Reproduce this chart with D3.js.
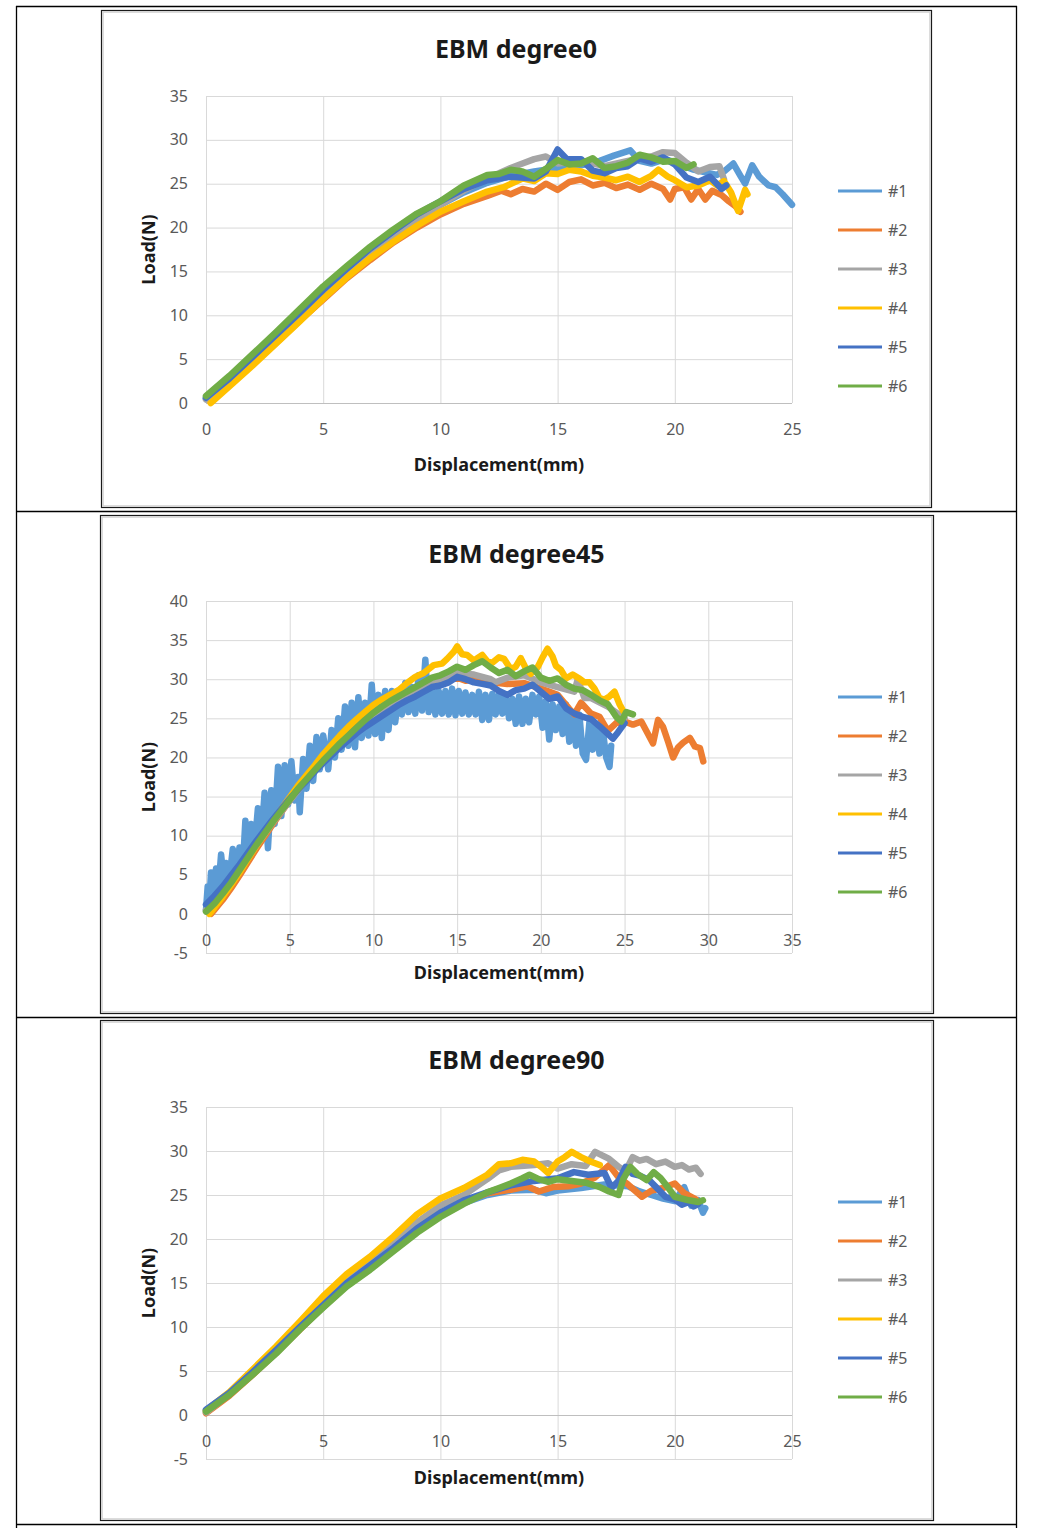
<!DOCTYPE html>
<html><head><meta charset="utf-8">
<script src="https://cdn.jsdelivr.net/npm/d3@7"></script>
<style>
body{margin:0;background:#fff}
svg{display:block}
text{font-family:"Noto Sans","Open Sans",sans-serif}
</style>
</head><body>
<svg id="c" width="1052" height="1528"></svg>
<script>
// ---------- data ----------
const seriesNames = ["#1","#2","#3","#4","#5","#6"];
const seriesColors = ["#5B9BD5","#ED7D31","#A5A5A5","#FFC000","#4472C4","#70AD47"];
const chartTitles = ["EBM degree0","EBM degree45","EBM degree90"];
const xTitle = "Displacement(mm)";
const yTitle = "Load(N)";

const deg0XTicks = [0,5,10,15,20,25];
const deg0YTicks = [0,5,10,15,20,25,30,35];
const deg45XTicks = [0,5,10,15,20,25,30,35];
const deg45YTicks = [-5,0,5,10,15,20,25,30,35,40];
const deg90XTicks = [0,5,10,15,20,25];
const deg90YTicks = [-5,0,5,10,15,20,25,30,35];

// EBM degree0
const deg0_s1 = [[0,0.5],[1,2.6],[2,5.0],[3,7.5],[4,10.0],[5,12.7],[6,15.0],[7,17.1],[8,19.1],[9,21.0],[10,22.6],[11,24.0],[12,25.1],[13,25.9],[14,26.4],[15,26.8],[16,27.1],[16.8,27.6],[17.4,28.2],[18.1,28.8],[18.5,27.6],[19,27.3],[19.6,27.8],[20.2,27.2],[20.8,26.6],[21.3,26.3],[21.8,26.0],[22.1,26.4],[22.5,27.3],[22.8,25.9],[23.0,25.0],[23.3,27.1],[23.6,25.8],[24.0,24.8],[24.3,24.6],[24.6,23.8],[25.0,22.6]];
const deg0_s2 = [[0.2,0.1],[1,2.1],[2,4.5],[3,6.9],[4,9.4],[5,11.8],[6,14.2],[7,16.3],[8,18.3],[9,20.0],[10,21.5],[11,22.7],[12,23.6],[12.6,24.2],[13,23.8],[13.5,24.4],[14,24.1],[14.5,25.0],[15,24.3],[15.5,25.2],[16,25.5],[16.5,24.8],[17,25.1],[17.5,24.5],[18,24.9],[18.5,24.3],[19,25.0],[19.5,24.4],[19.8,23.2],[20.0,24.4],[20.4,24.6],[20.7,23.2],[21,24.4],[21.3,23.2],[21.6,24.2],[22,23.7],[22.3,23.0],[22.6,22.4],[22.8,21.8]];
const deg0_s3 = [[0,0.4],[1,2.6],[2,5.1],[3,7.6],[4,10.1],[5,12.7],[6,15.0],[7,17.2],[8,19.2],[9,21.0],[10,22.6],[11,24.2],[12,25.6],[13,26.8],[13.5,27.3],[14,27.8],[14.5,28.1],[15,27.3],[16,27.6],[17,27.0],[18,27.6],[19,28.1],[19.5,28.6],[20,28.5],[20.5,27.4],[21,26.4],[21.5,26.9],[21.9,27.0],[22.1,25.5]];
const deg0_s4 = [[0.2,0],[1,1.9],[2,4.3],[3,6.8],[4,9.3],[5,11.9],[6,14.3],[7,16.5],[8,18.4],[9,20.2],[10,21.8],[11,23.0],[12,24.1],[12.7,24.6],[13.5,25.6],[14,25.3],[14.5,26.2],[15,26.1],[15.5,26.6],[16,26.4],[16.5,25.9],[17,25.7],[17.5,25.4],[18,25.8],[18.5,25.2],[19,25.9],[19.3,26.6],[19.7,25.8],[20,25.4],[20.5,24.6],[21,24.8],[21.5,25.4],[21.8,24.8],[22.1,25.3],[22.4,24.0],[22.7,21.9],[23.0,24.3],[23.1,23.8]];
const deg0_s5 = [[0,0.6],[1,2.8],[2,5.3],[3,7.8],[4,10.3],[5,12.9],[6,15.3],[7,17.6],[8,19.6],[9,21.5],[10,23.0],[11,24.4],[12,25.4],[13,25.8],[14,25.6],[14.5,26.4],[15,28.9],[15.4,27.8],[16,27.8],[16.5,26.5],[17,26.2],[17.5,26.8],[18,27.0],[18.5,27.9],[19,27.5],[19.5,28.0],[20,27.2],[20.5,25.7],[21,25.2],[21.5,25.8],[22,24.4],[22.2,24.8]];
const deg0_s6 = [[0,0.8],[1,3.1],[2,5.6],[3,8.1],[4,10.7],[5,13.3],[6,15.6],[7,17.8],[8,19.8],[9,21.6],[10,23.0],[11,24.8],[12,26.0],[12.5,26.1],[13,26.6],[13.5,26.4],[14,25.8],[14.5,26.7],[15,27.7],[15.5,27.2],[16,27.3],[16.5,27.9],[17,26.8],[17.5,27.0],[18,27.4],[18.5,28.3],[19,28.0],[19.5,27.5],[20,27.6],[20.5,26.8],[20.8,27.2]];

// EBM degree45
const deg45_s1 = [[0.0,0.5],[0.1,3.5],[0.2,1.5],[0.3,5.3],[0.45,2.5],[0.6,5.8],[0.75,3.5],[0.9,7.6],[1.05,4.5],[1.2,6.5],[1.4,4.5],[1.6,8.3],[1.8,5.5],[2.0,8.5],[2.2,6.0],[2.35,11.9],[2.5,7.5],[2.7,11.5],[2.9,8.5],[3.1,13.5],[3.3,9.5],[3.5,15.5],[3.7,8.4],[3.9,15.8],[4.1,11.5],[4.3,18.8],[4.5,12.5],[4.7,19.0],[4.9,14.0],[5.1,19.5],[5.3,14.5],[5.5,17.5],[5.6,13.0],[5.8,19.8],[6.0,16.0],[6.2,21.5],[6.4,17.0],[6.6,22.6],[6.8,18.5],[7.0,22.8],[7.3,18.5],[7.5,23.5],[7.7,20.0],[7.9,25.0],[8.1,21.0],[8.3,26.5],[8.5,21.5],[8.7,27.0],[8.9,21.3],[9.1,27.7],[9.3,22.5],[9.5,27.0],[9.7,22.8],[9.9,29.3],[10.1,23.0],[10.3,28.0],[10.5,22.5],[10.7,28.5],[10.9,23.5],[11.1,28.5],[11.3,24.5],[11.5,28.0],[11.7,25.5],[11.9,29.5],[12.1,25.8],[12.3,29.0],[12.5,25.6],[12.7,30.5],[12.9,26.0],[13.1,32.5],[13.3,25.8],[13.5,29.0],[13.7,25.5],[13.9,28.5],[14.1,25.6],[14.3,28.5],[14.5,25.5],[14.7,28.8],[14.9,25.4],[15.1,28.5],[15.3,25.6],[15.5,28.3],[15.7,25.5],[15.9,28.0],[16.1,25.5],[16.3,28.4],[16.5,24.8],[16.7,28.0],[16.9,24.8],[17.1,28.1],[17.3,25.5],[17.5,28.2],[17.7,25.6],[17.9,27.8],[18.1,25.0],[18.3,27.5],[18.5,24.3],[18.7,27.8],[18.9,24.3],[19.1,27.5],[19.3,24.5],[19.5,28.0],[19.7,25.5],[19.9,27.8],[20.1,23.8],[20.3,27.2],[20.5,22.3],[20.7,26.8],[20.9,23.5],[21.1,26.5],[21.3,23.0],[21.5,26.8],[21.7,22.0],[21.9,25.8],[22.1,21.5],[22.3,25.5],[22.5,20.5],[22.7,19.7],[22.9,24.5],[23.1,21.0],[23.3,24.0],[23.5,20.5],[23.7,23.5],[23.9,20.0],[24.1,18.8],[24.2,21.5]];
const deg45_s2 = [[0.3,0],[0.5,0.5],[1,1.8],[1.5,3.3],[2,4.9],[2.5,6.6],[3,8.3],[3.5,9.9],[4,11.5],[4.5,13.0],[5,14.5],[5.5,15.9],[6,17.2],[6.5,18.5],[7,19.7],[7.5,20.8],[8,21.9],[8.5,22.9],[9,23.9],[9.5,24.8],[10,25.6],[11,27.0],[12,28.0],[13,28.9],[14,29.6],[15,30.2],[15.5,29.8],[16,30.0],[17,29.6],[18,29.4],[19,29.5],[20,28.8],[21,28.0],[21.7,26.2],[22.0,25.5],[22.4,27.0],[23,25.6],[23.5,25.2],[24,23.4],[24.5,24.4],[25.0,24.6],[25.5,24.2],[26.0,24.6],[26.4,23.0],[26.7,21.8],[27.0,24.8],[27.3,23.9],[27.6,22.0],[27.9,20.0],[28.2,21.3],[28.5,21.9],[28.9,22.5],[29.2,21.4],[29.5,21.2],[29.7,19.5]];
const deg45_s3 = [[0,0.5],[0.5,1.5],[1,2.8],[1.5,4.2],[2,5.7],[2.5,7.2],[3,8.7],[3.5,10.2],[4,11.7],[4.5,13.1],[5,14.5],[6,17.1],[7,19.4],[8,21.6],[9,23.6],[10,25.4],[11,26.9],[12,28.1],[13,29.2],[14,30.0],[15,30.8],[16,30.6],[17,30.0],[17.3,29.6],[18,30.2],[19,30.5],[20,29.6],[21,29.0],[22,28.4],[22.2,30.0],[22.6,27.6],[23,27.6],[24,26.5],[25,25.0]];
const deg45_s4 = [[0.2,0],[0.5,0.8],[1,2.2],[1.5,3.7],[2,5.3],[2.5,7.0],[3,8.7],[3.5,10.3],[4,11.9],[4.5,13.4],[5,14.9],[5.5,16.4],[6,17.7],[6.5,19.0],[7,20.4],[7.5,21.6],[8,22.8],[8.5,23.9],[9,24.9],[9.5,25.8],[10,26.7],[10.5,27.4],[11,28.0],[11.5,28.6],[12,29.5],[12.5,30.3],[13,30.8],[13.6,31.8],[14.1,32.0],[14.4,32.6],[14.8,33.5],[15.0,34.2],[15.3,33.2],[15.6,33.1],[16,32.4],[16.5,33.1],[16.8,32.3],[17.1,32.1],[17.5,32.8],[17.8,32.6],[18.2,31.3],[18.5,31.6],[18.8,32.7],[19.1,31.4],[19.4,30.7],[19.8,31.5],[20.1,32.8],[20.4,33.9],[20.7,32.9],[20.9,31.7],[21.2,31.2],[21.5,30.1],[21.9,30.6],[22.3,30.1],[22.6,29.6],[22.9,29.6],[23.2,28.8],[23.5,27.6],[23.8,27.4],[24.1,27.8],[24.4,28.4],[24.7,26.8],[24.9,26.0]];
const deg45_s5 = [[0,1.2],[0.5,2.3],[1,3.5],[1.5,4.9],[2,6.3],[2.5,7.8],[3,9.3],[3.5,10.7],[4,12.1],[4.5,13.4],[5,14.7],[5.5,15.9],[6,17.0],[6.5,18.2],[7,19.3],[7.5,20.3],[8,21.3],[8.5,22.2],[9,23.1],[9.5,23.9],[10,24.6],[10.5,25.3],[11,26.0],[11.5,26.7],[12,27.3],[12.5,27.8],[13,28.4],[13.5,29.0],[14,29.2],[14.5,29.6],[15,30.3],[15.5,30.0],[16,29.6],[16.5,29.4],[17,29.2],[17.5,28.5],[18,28.0],[18.5,28.6],[19,28.8],[19.5,29.3],[20,28.4],[20.5,27.5],[21,27.8],[21.5,26.3],[22,25.6],[22.5,25.2],[23,24.9],[23.5,24.0],[24,23.0],[24.3,22.4],[24.6,23.2],[25.0,24.4]];
const deg45_s6 = [[0,0.3],[0.5,1.3],[1,2.6],[1.5,4.0],[2,5.6],[2.5,7.2],[3,8.8],[3.5,10.3],[4,11.8],[4.5,13.2],[5,14.6],[5.5,16.0],[6,17.2],[6.5,18.4],[7,19.6],[7.5,20.7],[8,21.8],[8.5,22.8],[9,23.8],[9.5,24.8],[10,25.7],[10.5,26.5],[11,27.2],[11.5,27.8],[12,28.4],[12.5,29.0],[13,29.6],[13.5,30.2],[14,30.5],[14.5,31.0],[15,31.6],[15.5,31.2],[16,31.8],[16.5,32.3],[17,31.5],[17.5,30.8],[18,31.2],[18.5,30.4],[19,31.0],[19.5,31.5],[20,30.2],[20.5,29.8],[21,30.1],[21.5,29.3],[22,28.8],[22.5,28.6],[23,28.0],[23.5,27.3],[24,26.8],[24.5,25.2],[24.8,24.6],[25.1,25.8],[25.5,25.5]];

// EBM degree90
const deg90_s1 = [[0,0.5],[1,2.4],[2,4.8],[3,7.2],[4,9.8],[5,12.3],[6,14.8],[7,16.8],[8,18.8],[9,20.9],[10,22.7],[11,24.1],[12,25.0],[13,25.5],[14,25.6],[14.5,25.2],[15,25.5],[16,25.8],[17,26.2],[18,26.0],[18.5,25.4],[19,25.0],[19.5,24.6],[20,24.3],[20.4,25.9],[20.7,23.8],[21.0,24.4],[21.2,23.0],[21.3,23.5]];
const deg90_s2 = [[0,0.2],[1,2.2],[2,4.6],[3,7.1],[4,9.7],[5,12.3],[6,14.7],[7,16.8],[8,18.9],[9,20.9],[10,22.8],[11,24.2],[12,25.2],[13,25.6],[13.7,26.0],[14.2,25.4],[14.8,25.9],[15.5,26.0],[16,26.3],[16.6,27.0],[17.2,28.4],[17.6,27.0],[18,26.2],[18.6,24.8],[19,25.5],[19.5,25.8],[20,26.3],[20.4,25.2],[20.9,24.5]];
const deg90_s3 = [[0,0.3],[1,2.4],[2,4.8],[3,7.3],[4,10.0],[5,12.6],[6,15.1],[7,17.3],[8,19.6],[9,21.9],[10,23.8],[11,25.0],[12,26.8],[12.5,27.8],[13,28.2],[14,28.4],[14.6,28.6],[15,28.0],[15.6,28.5],[16.2,28.3],[16.6,29.9],[17.2,29.1],[17.6,28.2],[17.9,27.7],[18.2,29.3],[18.5,28.9],[18.8,29.1],[19.2,28.5],[19.6,28.8],[20,28.2],[20.3,28.4],[20.6,27.9],[20.9,28.1],[21.1,27.4]];
const deg90_s4 = [[0,0.5],[1,2.6],[2,5.2],[3,7.8],[4,10.6],[5,13.5],[6,16.0],[7,18.0],[8,20.3],[9,22.8],[10,24.6],[11,25.8],[12,27.3],[12.5,28.5],[13,28.6],[13.5,29.0],[14,28.8],[14.3,28.2],[14.6,27.5],[15,28.8],[15.3,29.3],[15.6,29.9],[16,29.3],[16.4,28.8],[16.8,28.4]];
const deg90_s5 = [[0,0.6],[1,2.5],[2,4.9],[3,7.4],[4,10.0],[5,12.5],[6,15.0],[7,17.0],[8,19.0],[9,21.2],[10,23.0],[11,24.4],[12,25.3],[13,26.1],[14,26.6],[15,26.9],[15.7,27.6],[16.3,27.3],[17,27.5],[17.3,25.8],[17.6,26.6],[17.9,28.2],[18.2,27.4],[18.5,27.2],[18.9,26.7],[19.2,25.9],[19.6,24.8],[20,24.5],[20.3,23.9],[20.6,24.2],[20.8,23.7],[21.0,24.0]];
const deg90_s6 = [[0,0.4],[1,2.3],[2,4.6],[3,7.0],[4,9.7],[5,12.2],[6,14.6],[7,16.5],[8,18.6],[9,20.7],[10,22.5],[11,24.0],[12,25.3],[12.5,25.8],[13,26.3],[13.5,26.9],[13.8,27.3],[14.2,26.8],[14.6,26.5],[15,26.8],[15.6,26.6],[16.2,26.4],[16.8,25.9],[17.2,25.4],[17.6,25.0],[17.8,26.8],[18.1,28.2],[18.4,27.4],[18.8,26.7],[19.1,27.6],[19.4,26.9],[19.7,25.9],[20,24.8],[20.3,24.6],[20.6,24.4],[21.0,24.2],[21.2,24.4]];

// ---------- drawing ----------
const svg = d3.select("#c");

// outer table lines
const tbl = svg.append("g").attr("stroke","#000").attr("stroke-width",1.3);
[6,511,1017,1524].forEach(yy => tbl.append("line").attr("x1",16).attr("x2",1017).attr("y1",yy+0.5).attr("y2",yy+0.5));
[16,1016].forEach(xx => tbl.append("line").attr("x1",xx+0.5).attr("x2",xx+0.5).attr("y1",6).attr("y2",1528));

const panels = [
  {title:chartTitles[0], xTicks:deg0XTicks, yTicks:deg0YTicks, series:[deg0_s1,deg0_s2,deg0_s3,deg0_s4,deg0_s5,deg0_s6],
   box:[101,10,931,507], top:96, bottom:403, titleY:48, xTitleY:464, legendY:191},
  {title:chartTitles[1], xTicks:deg45XTicks, yTicks:deg45YTicks, series:[deg45_s1,deg45_s2,deg45_s3,deg45_s4,deg45_s5,deg45_s6],
   box:[100,515,933,1013], top:601, bottom:953, titleY:553, xTitleY:972, legendY:697},
  {title:chartTitles[2], xTicks:deg90XTicks, yTicks:deg90YTicks, series:[deg90_s1,deg90_s2,deg90_s3,deg90_s4,deg90_s5,deg90_s6],
   box:[100,1020,933,1520], top:1107, bottom:1459, titleY:1059, xTitleY:1477, legendY:1202}
];

const L = 206, R = 792;
const fmt = d => String(d);

panels.forEach(p => {
  const g = svg.append("g");
  const [bx0,by0,bx1,by1] = p.box;
  g.append("rect").attr("x",bx0+0.5).attr("y",by0+0.5).attr("width",bx1-bx0).attr("height",by1-by0)
    .attr("fill","#fff").attr("stroke","#1a1a1a").attr("stroke-width",1.2);
  g.append("rect").attr("x",bx0+2).attr("y",by0+2).attr("width",bx1-bx0-3).attr("height",by1-by0-3)
    .attr("fill","none").attr("stroke","#d0d0d0").attr("stroke-width",1.5);

  const x = d3.scaleLinear().domain([p.xTicks[0], p.xTicks[p.xTicks.length-1]]).range([L,R]);
  const y = d3.scaleLinear().domain([p.yTicks[0], p.yTicks[p.yTicks.length-1]]).range([p.bottom,p.top]);

  // horizontal gridlines
  const gy = g.append("g").attr("transform",`translate(${L},0)`)
    .call(d3.axisLeft(y).tickValues(p.yTicks).tickSize(-(R-L)).tickFormat(""));
  gy.select(".domain").remove();
  gy.selectAll("line").attr("stroke","#d9d9d9");
  // vertical gridlines
  const gx = g.append("g").attr("transform",`translate(0,${p.bottom})`)
    .call(d3.axisBottom(x).tickValues(p.xTicks).tickSize(-(p.bottom-p.top)).tickFormat(""));
  gx.select(".domain").remove();
  gx.selectAll("line").attr("stroke","#d9d9d9");
  // zero axis line
  g.append("line").attr("x1",L).attr("x2",R).attr("y1",Math.round(y(0))+0.5).attr("y2",Math.round(y(0))+0.5)
    .attr("stroke","#bfbfbf").attr("stroke-width",1);

  // y tick labels
  const ya = g.append("g").attr("transform",`translate(${L},0)`)
    .call(d3.axisLeft(y).tickValues(p.yTicks).tickSize(0).tickPadding(18).tickFormat(fmt));
  ya.select(".domain").remove();
  ya.selectAll("text").attr("font-size",16).attr("fill","#595959").style("font-family","'Noto Sans','Open Sans',sans-serif");
  // x tick labels at y=0
  const xa = g.append("g").attr("transform",`translate(0,${y(0)})`)
    .call(d3.axisBottom(x).tickValues(p.xTicks).tickSize(0).tickPadding(21).tickFormat(fmt));
  xa.select(".domain").remove();
  xa.selectAll("text").attr("font-size",16).attr("fill","#595959").style("font-family","'Noto Sans','Open Sans',sans-serif");

  // series
  const line = d3.line().x(d => x(d[0])).y(d => y(d[1]));
  p.series.forEach((s,i) => {
    g.append("path").attr("d",line(s)).attr("fill","none")
      .attr("stroke",seriesColors[i]).attr("stroke-width",6.5)
      .attr("stroke-linejoin","round").attr("stroke-linecap","round");
  });

  // titles
  g.append("text").attr("x",(bx0+bx1)/2).attr("y",p.titleY).attr("text-anchor","middle")
    .attr("dominant-baseline","central").attr("font-size",25).attr("font-weight","bold").attr("fill","#1a1a1a").text(p.title);
  g.append("text").attr("x",(L+R)/2).attr("y",p.xTitleY).attr("text-anchor","middle")
    .attr("dominant-baseline","central").attr("font-size",18).attr("font-weight","bold").attr("fill","#1a1a1a").text(xTitle);
  g.append("text").attr("transform",`translate(148,${(p.top+p.bottom)/2}) rotate(-90)`).attr("text-anchor","middle")
    .attr("dominant-baseline","central").attr("font-size",18).attr("font-weight","bold").attr("fill","#1a1a1a").text(yTitle);

  // legend
  seriesNames.forEach((n,i) => {
    const ly = p.legendY + i*39;
    g.append("line").attr("x1",838).attr("x2",882).attr("y1",ly).attr("y2",ly)
      .attr("stroke",seriesColors[i]).attr("stroke-width",3);
    g.append("text").attr("x",888).attr("y",ly).attr("dominant-baseline","central")
      .attr("font-size",16).attr("fill","#595959").text(n);
  });
});
</script>
</body></html>
